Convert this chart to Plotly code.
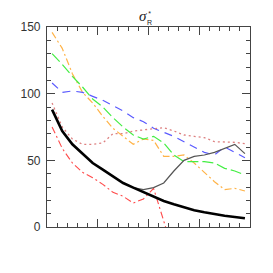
import plotly.graph_objects as go

# bin centres
x_all = [0.5, 1.5, 2.5, 3.5, 4.5, 5.5, 6.5, 7.5, 8.5, 9.5, 10.5, 11.5, 12.5, 13.5, 14.5, 15.5, 16.5, 17.5, 18.5, 19.5]

black_thick = [88, 72, 62, 55, 48, 43, 38, 33, 29.5, 26, 22.5, 19.5, 17, 14.5, 12.5, 11, 9.5, 8.5, 7.5, 6.5]

x_gray = [8.5, 9.5, 10.5, 11.5, 12.5, 13.5, 14.5, 15.5, 16.5, 17.5, 18.5, 19.5]
gray = [29.5, 28, 29.5, 33, 42, 50, 53, 54, 56, 59, 62, 55]

x_red = [0.5, 1.5, 2.5, 3.5, 4.5, 5.5, 6.5, 7.5, 8.5, 9.5, 10.5, 11.5, 12.5]
red = [75, 59, 48, 41, 37, 32, 26, 23, 18, 21, 29, 5, -20]

pink = [93, 75, 66, 62, 62, 63, 70, 70, 72, 73, 73.5, 74.5, 72, 69, 68, 67, 64, 64, 63.5, 62.5]
orange = [146, 134, 115, 101, 93, 83, 74, 68, 62, 66, 65, 53, 53, 54, 48, 41, 34, 28, 29, 27]
green = [130, 122, 113, 105, 96, 90, 82, 75, 69, 66, 68, 63, 54, 49, 49, 49, 48, 44, 42, 39]
blue = [108, 101, 102, 101, 98, 95, 91, 87, 82, 79, 74, 71, 68, 64, 60, 56, 54, 60, 56, 52]

y_ticks = [0, 50, 100, 150]
y_ticklabels = ["0", "50", "100", "150"]

fig = go.Figure()
fig.add_trace(go.Scatter(x=x_all, y=orange, mode="lines",
                         line=dict(color="#FFB347", width=1.2, dash="7px,3px,2px,3px")))
fig.add_trace(go.Scatter(x=x_all, y=green, mode="lines",
                         line=dict(color="#44EE44", width=1.2, dash="11px,4px")))
fig.add_trace(go.Scatter(x=x_all, y=blue, mode="lines",
                         line=dict(color="#5A5AFF", width=1.2, dash="8px,6px")))
fig.add_trace(go.Scatter(x=x_all, y=pink, mode="lines",
                         line=dict(color="#DD8080", width=1.3, dash="2px,3px")))
fig.add_trace(go.Scatter(x=x_red, y=red, mode="lines",
                         line=dict(color="#FF4A4A", width=1.1, dash="7px,3px,2px,3px")))
fig.add_trace(go.Scatter(x=x_gray, y=gray, mode="lines",
                         line=dict(color="#555555", width=1.2)))
fig.add_trace(go.Scatter(x=x_all, y=black_thick, mode="lines",
                         line=dict(color="#000000", width=2.6)))

axis_common = dict(showline=True, linecolor="#444444", linewidth=1.2, mirror="allticks",
                   ticks="inside", tickcolor="#444444", tickwidth=1, ticklen=8,
                   showgrid=False, zeroline=False)

fig.update_xaxes(range=[0, 20], dtick=5, tick0=0, showticklabels=False,
                 minor=dict(ticks="inside", ticklen=4, dtick=1, tickcolor="#444444", showgrid=False),
                 **axis_common)
fig.update_yaxes(range=[0, 150], tickvals=y_ticks, ticktext=y_ticklabels,
                 tickfont=dict(family="Liberation Sans", size=12, color="#333333"),
                 ticklabelstandoff=3,
                 minor=dict(ticks="inside", ticklen=4, dtick=10, tickcolor="#444444", showgrid=False),
                 **axis_common)

# page body has an 8px margin; target plot area is x 46..250, y 23..227 on the page
OFF = 8

def px_x(p):
    return (p - 46) / 204.0

def px_y(p):
    return (227 - p) / 204.0

fig.add_annotation(x=px_x(142.5), y=px_y(12), xref="paper", yref="paper", text="<i>σ</i>",
                   showarrow=False, xanchor="center", yanchor="middle",
                   font=dict(family="Liberation Serif", size=15, color="#222222"))
fig.add_annotation(x=px_x(149.5), y=px_y(13.5), xref="paper", yref="paper", text="*<br>R",
                   showarrow=False, xanchor="center", yanchor="middle", align="center",
                   font=dict(family="Liberation Sans", size=7, color="#222222"))

fig.update_layout(width=273 - OFF, height=273 - OFF,
                  margin=dict(l=46 - OFF, r=23, t=23 - OFF, b=46),
                  paper_bgcolor="white", plot_bgcolor="white", showlegend=False)

fig.write_html("out.html")
